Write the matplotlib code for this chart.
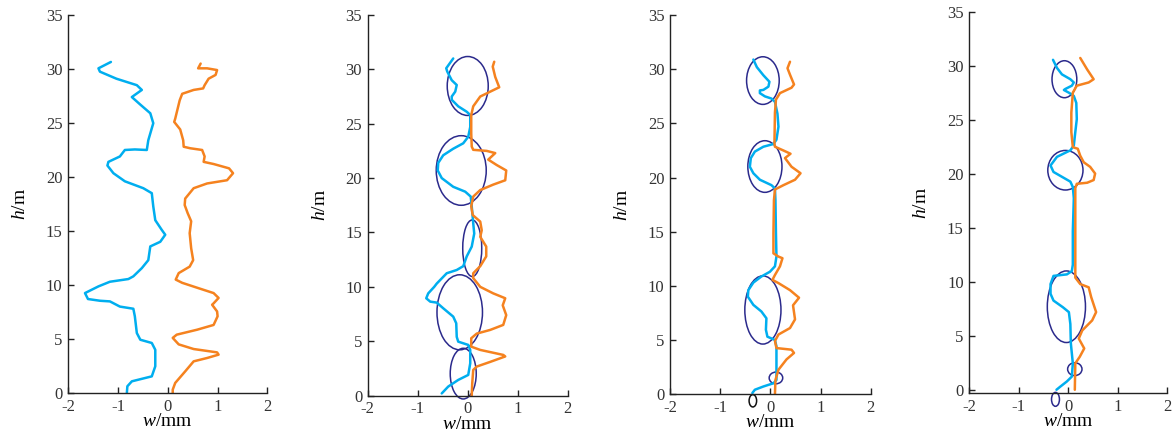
import matplotlib
matplotlib.use("Agg")
import matplotlib.pyplot as plt
from matplotlib.patches import Ellipse

plt.rcParams["font.family"] = "Liberation Serif"
plt.rcParams["mathtext.fontset"] = "custom"
plt.rcParams["mathtext.it"] = "Liberation Serif:italic"
plt.rcParams["mathtext.rm"] = "Liberation Serif"
plt.rcParams["axes.unicode_minus"] = False

BLUE = "#00AEEF"
ORANGE = "#F5821F"
NAVY = "#2B2A8C"

# ---- panel 1 ----
p1_blue_w = [-1.14, -1.39, -1.36, -1.03, -0.62, -0.52, -0.66, -0.72, -0.55, -0.35, -0.29, -0.39, -0.42,
             -0.66, -0.86, -0.96, -1.19, -1.21, -1.09, -0.86, -0.49, -0.32, -0.29, -0.25, -0.12, -0.05,
             -0.15, -0.35, -0.39, -0.52, -0.69, -0.79, -1.16, -1.39, -1.66, -1.60, -1.36, -1.16, -0.96,
             -0.69, -0.66, -0.62, -0.55, -0.32, -0.25, -0.25, -0.32, -0.72, -0.81, -0.82]
p1_blue_h = [30.65, 30.06, 29.75, 29.1, 28.5, 28.06, 27.6, 27.4, 26.7, 25.9, 24.98, 23.4, 22.5,
             22.55, 22.5, 21.9, 21.4, 21.06, 20.35, 19.6, 18.96, 18.5, 17.27, 16.0, 15.1, 14.65,
             14.0, 13.57, 12.3, 11.56, 10.8, 10.55, 10.3, 9.87, 9.25, 8.7, 8.54, 8.48, 8.0,
             7.8, 7.1, 5.55, 4.93, 4.63, 4.0, 2.47, 1.54, 1.08, 0.62, 0.0]
p1_orange_w = [0.66, 0.61, 0.79, 0.99, 0.96, 0.82, 0.74, 0.71, 0.52, 0.29, 0.24, 0.15, 0.13, 0.25, 0.31,
               0.32, 0.45, 0.69, 0.74, 0.72, 0.92, 1.23, 1.31, 1.19, 0.79, 0.52, 0.35, 0.34, 0.40, 0.47,
               0.44, 0.47, 0.51, 0.44, 0.22, 0.16, 0.29, 0.62, 0.92, 1.02, 0.92, 0.89, 0.99, 1.00, 0.92,
               0.59, 0.18, 0.10, 0.22, 0.52, 0.99, 1.02, 0.79, 0.52, 0.35, 0.15, 0.10, 0.10]
p1_orange_h = [30.5, 30.06, 30.06, 29.9, 29.45, 29.1, 28.5, 28.2, 28.06, 27.7, 27.1, 25.4, 25.1, 24.4, 23.4,
               22.8, 22.66, 22.5, 21.9, 21.4, 21.2, 20.8, 20.35, 19.7, 19.4, 18.96, 18.0, 17.4, 16.65, 15.9,
               14.8, 13.4, 12.3, 11.7, 11.1, 10.5, 10.2, 9.7, 9.25, 8.8, 8.3, 8.17, 7.55, 7.1, 6.3,
               5.86, 5.4, 5.1, 4.5, 4.07, 3.76, 3.55, 3.24, 2.93, 2.0, 0.93, 0.31, 0.0]

# ---- panel 2 ----
p2_blue_w = [-0.29, -0.43, -0.41, -0.32, -0.22, -0.25, -0.32, -0.32, -0.19, -0.02, 0.05, 0.05, 0.01, -0.09,
             -0.29, -0.49, -0.59, -0.60, -0.52, -0.29, -0.05, 0.06, 0.08, 0.11, 0.13, 0.08, -0.02, -0.09,
             -0.22, -0.42, -0.62, -0.67, -0.79, -0.83, -0.75, -0.62, -0.49, -0.29, -0.23, -0.22, -0.19,
             0.01, 0.05, 0.05, 0.01, -0.19, -0.39, -0.52]
p2_blue_h = [31.0, 30.1, 29.8, 29.0, 28.56, 27.95, 27.5, 27.2, 26.6, 26.1, 25.8, 24.7, 23.8, 23.2,
             22.7, 22.1, 21.4, 20.7, 20.0, 19.2, 18.75, 18.3, 17.4, 15.85, 14.9, 13.7, 12.8, 11.9,
             11.55, 11.25, 10.3, 10.0, 9.4, 8.95, 8.64, 8.55, 8.03, 7.26, 6.65, 5.4, 4.96,
             4.66, 4.2, 2.97, 1.9, 1.44, 0.83, 0.2]
p2_orange_w = [0.53, 0.50, 0.55, 0.63, 0.45, 0.25, 0.11, 0.07, 0.07, 0.08, 0.11, 0.38, 0.55, 0.41, 0.58,
               0.77, 0.75, 0.51, 0.25, 0.11, 0.07, 0.10, 0.25, 0.28, 0.25, 0.37, 0.37, 0.25, 0.11, 0.11,
               0.25, 0.51, 0.75, 0.70, 0.77, 0.71, 0.45, 0.18, 0.07, 0.07, 0.25, 0.71, 0.75, 0.45, 0.18,
               0.11, 0.09, 0.08]
p2_orange_h = [30.7, 30.25, 29.3, 28.35, 27.95, 27.5, 26.6, 25.8, 24.1, 22.9, 22.6, 22.5, 22.3, 21.7, 21.2,
               20.7, 19.8, 19.4, 18.9, 18.3, 17.4, 16.6, 16.0, 15.2, 14.6, 13.7, 12.8, 11.9, 11.25, 10.8,
               10.0, 9.4, 8.95, 8.3, 7.4, 6.5, 6.04, 5.7, 5.27, 4.5, 4.2, 3.74, 3.6, 3.1, 2.67,
               2.36, 1.13, 0.0]

# ---- panel 3 ----
p3_blue_w = [-0.34, -0.27, -0.14, -0.02, -0.04, -0.14, -0.21, -0.21, -0.11, 0.02, 0.09, 0.14, 0.16, 0.12,
             0.06, -0.14, -0.31, -0.39, -0.41, -0.34, -0.21, 0.02, 0.09, 0.10, 0.11, 0.12, 0.09, -0.01,
             -0.18, -0.34, -0.44, -0.45, -0.34, -0.18, -0.08, -0.09, -0.06, 0.09, 0.12, 0.12, 0.12, 0.06,
             -0.14, -0.31, -0.36]
p3_blue_h = [30.9, 30.2, 29.45, 28.85, 28.4, 28.1, 28.05, 27.8, 27.5, 27.3, 27.0, 25.9, 24.7, 23.5,
             23.1, 22.85, 22.4, 21.8, 21.0, 20.4, 19.8, 19.3, 19.0, 17.9, 14.85, 12.7, 11.8, 11.3,
             10.86, 10.3, 9.6, 9.0, 8.24, 7.63, 7.0, 5.94, 5.3, 5.0, 4.4, 2.55, 1.3, 1.0,
             0.7, 0.4, 0.1]
p3_orange_w = [0.39, 0.34, 0.39, 0.47, 0.42, 0.19, 0.11, 0.09, 0.08, 0.09, 0.26, 0.40, 0.29, 0.42, 0.60,
               0.49, 0.26, 0.09, 0.07, 0.06, 0.06, 0.16, 0.24, 0.19, 0.09, 0.04, 0.16, 0.39, 0.57, 0.45,
               0.49, 0.39, 0.16, 0.09, 0.12, 0.42, 0.47, 0.32, 0.16, 0.10, 0.09]
p3_orange_h = [30.7, 30.1, 29.5, 28.6, 28.3, 27.8, 27.2, 26.0, 23.2, 22.85, 22.5, 22.2, 21.8, 21.0, 20.4,
               19.8, 19.3, 18.9, 17.9, 14.85, 13.0, 12.7, 12.55, 11.8, 11.0, 10.55, 10.25, 9.6, 8.9, 8.2,
               6.9, 6.1, 5.5, 4.9, 4.25, 4.1, 3.8, 3.2, 2.25, 1.3, 0.0]

# ---- panel 4 ----
p4_blue_w = [-0.31, -0.23, -0.13, 0.04, 0.11, 0.07, -0.06, -0.09, 0.01, 0.11, 0.16, 0.17, 0.14, 0.11,
             0.04, -0.03, -0.23, -0.36, -0.30, -0.13, 0.04, 0.09, 0.11, 0.09, 0.09, 0.07, -0.03, -0.30,
             -0.36, -0.36, -0.30, -0.11, 0.01, 0.04, 0.05, 0.09, 0.07, -0.03, -0.16, -0.24]
p4_blue_h = [30.6, 29.85, 29.25, 28.8, 28.5, 28.2, 27.9, 27.8, 27.55, 27.25, 26.6, 25.1, 23.9, 22.66,
             22.2, 22.05, 21.6, 20.8, 20.2, 19.75, 19.3, 18.8, 17.76, 14.7, 11.6, 11.0, 10.7, 10.56,
             9.8, 8.9, 8.27, 7.65, 7.2, 6.1, 4.3, 2.45, 1.22, 0.77, 0.3, 0.0]
p4_orange_w = [0.24, 0.38, 0.51, 0.41, 0.17, 0.09, 0.06, 0.06, 0.09, 0.19, 0.24, 0.31, 0.44, 0.54, 0.51,
               0.38, 0.17, 0.14, 0.14, 0.14, 0.24, 0.41, 0.46, 0.56, 0.48, 0.28, 0.21, 0.32, 0.23, 0.14,
               0.13]
p4_orange_h = [30.77, 29.7, 28.8, 28.5, 28.2, 27.55, 25.7, 23.9, 22.5, 22.35, 21.7, 21.1, 20.67, 20.05, 19.45,
               19.2, 19.1, 18.7, 14.7, 10.4, 9.8, 9.5, 8.6, 7.2, 6.43, 5.5, 4.75, 3.83, 3.06, 2.45,
               0.0]

# ellipses: (center w, center h, width, height, colour)
p2_ellipses = [(0.00, 28.47, 0.82, 5.42, NAVY), (-0.13, 20.70, 1.00, 6.40, NAVY),
               (0.09, 13.55, 0.38, 5.20, NAVY), (-0.16, 7.66, 0.91, 6.90, NAVY),
               (-0.09, 2.02, 0.52, 4.66, NAVY)]
p3_ellipses = [(-0.15, 28.96, 0.65, 4.40, NAVY), (-0.11, 21.02, 0.68, 4.77, NAVY),
               (-0.15, 7.77, 0.72, 6.30, NAVY), (0.11, 1.49, 0.27, 1.08, NAVY),
               (-0.35, -0.62, 0.15, 1.14, "#111111")]
p4_ellipses = [(-0.08, 28.80, 0.50, 3.43, NAVY), (-0.06, 20.36, 0.71, 3.67, NAVY),
               (-0.04, 7.70, 0.77, 6.64, NAVY), (0.13, 1.91, 0.29, 1.19, NAVY),
               (-0.26, -0.89, 0.16, 1.29, NAVY)]

panels = [
    (p1_blue_w, p1_blue_h, p1_orange_w, p1_orange_h, []),
    (p2_blue_w, p2_blue_h, p2_orange_w, p2_orange_h, p2_ellipses),
    (p3_blue_w, p3_blue_h, p3_orange_w, p3_orange_h, p3_ellipses),
    (p4_blue_w, p4_blue_h, p4_orange_w, p4_orange_h, p4_ellipses),
]
positions = [
    [0.058, 0.0945, 0.170, 0.871],
    [0.3135, 0.0885, 0.1705, 0.877],
    [0.5712, 0.092, 0.1712, 0.873],
    [0.8263, 0.0945, 0.169, 0.877],
]

fig = plt.figure(figsize=(11.73, 4.34), dpi=100)

for i, (bw, bh, ow, oh, ells) in enumerate(panels):
    ax = fig.add_axes(positions[i])
    ax.plot(bw, bh, color=BLUE, lw=1.8, solid_joinstyle="round", solid_capstyle="round")
    ax.plot(ow, oh, color=ORANGE, lw=1.8, solid_joinstyle="round", solid_capstyle="round")
    for cx, cy, ew, eh, c in ells:
        ax.add_patch(Ellipse((cx, cy), ew, eh, fill=False, edgecolor=c, lw=1.1, clip_on=False))
    ax.set_xlim(-2, 2)
    ax.set_ylim(-0.3 if i == 3 else 0, 35)
    ax.set_xticks([-2, -1, 0, 1, 2])
    ax.set_yticks([0, 5, 10, 15, 20, 25, 30, 35])
    ax.spines["top"].set_visible(False)
    ax.spines["right"].set_visible(False)
    for s in ("left", "bottom"):
        ax.spines[s].set_linewidth(1.0)
        ax.spines[s].set_color("#222222")
    ax.tick_params(direction="in", length=4.5, width=1.0, labelsize=12, pad=4,
                   colors="#222222", labelcolor="#333333")
    ax.set_xlabel("$w$/mm", fontsize=14, labelpad=-1)
    ax.set_ylabel("$h$/m", fontsize=14, labelpad=12)

fig.savefig("out.png", dpi=100)
